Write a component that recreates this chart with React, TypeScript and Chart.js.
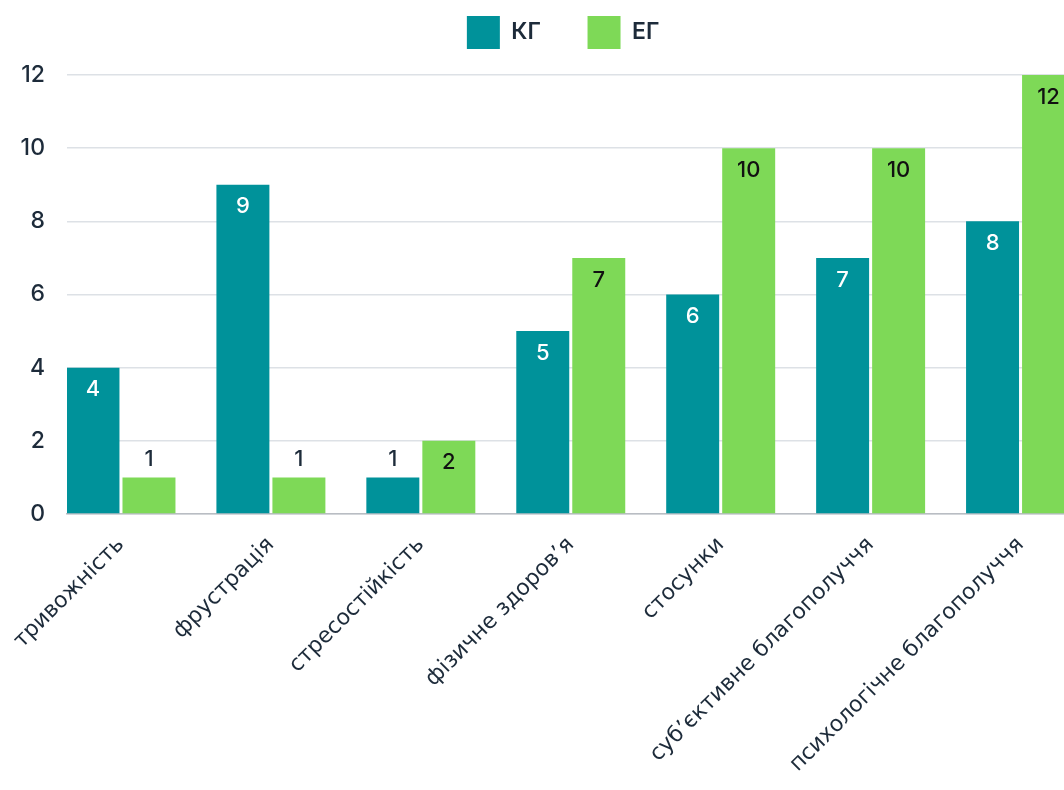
import React, { useEffect, useRef } from 'react';
import { Chart, registerables } from 'chart.js';

Chart.register(...registerables);

const categories = [
  'тривожність',
  'фрустрація',
  'стресостійкість',
  'фізичне здоров’я',
  'стосунки',
  'суб’єктивне благополуччя',
  'психологічне благополуччя',
];
const seriesNames = ['КГ', 'ЕГ'];
const seriesKG = [4, 9, 1, 5, 6, 7, 8];
const seriesEG = [1, 1, 2, 7, 10, 10, 12];
const yMin = 0;
const yMax = 12;
const yStep = 2;

const colors = ['#00929A', '#7ED957'];
const textColor = '#1d2b3a';

const CW = 1130;
const CH = 790;

const legendHeight = {
  id: 'legendHeight',
  beforeInit(chart: any) {
    const lg = chart.legend;
    if (!lg) return;
    const orig = lg.fit;
    lg.fit = function () {
      orig.call(this);
      this.height = 75;
    };
  },
};

const valueLabels = {
  id: 'valueLabels',
  afterDatasetsDraw(chart: any) {
    const ctx = chart.ctx;
    ctx.save();
    ctx.font = '500 22px Inter';
    ctx.textAlign = 'center';
    ctx.textBaseline = 'middle';
    chart.data.datasets.forEach((ds: any, di: number) => {
      const meta = chart.getDatasetMeta(di);
      meta.data.forEach((bar: any, i: number) => {
        const v = ds.data[i].y;
        const inside = v > 1;
        ctx.fillStyle = inside ? (di === 0 ? '#ffffff' : '#111111') : textColor;
        ctx.fillText(String(v), bar.x, inside ? bar.y + 22 : bar.y - 18);
      });
    });
    ctx.restore();
  },
};

export default function App() {
  const ref = useRef<HTMLCanvasElement | null>(null);

  useEffect(() => {
    if (!ref.current) return;
    const baseGen = (Chart as any).defaults.plugins.legend.labels.generateLabels;
    const chart = new Chart(ref.current, {
      type: 'bar',
      data: {
        datasets: [
          {
            label: seriesNames[0],
            data: seriesKG.map((v, i) => ({ x: i, y: v })),
            backgroundColor: colors[0],
            borderWidth: 0,
          },
          {
            label: seriesNames[1],
            data: seriesEG.map((v, i) => ({ x: i, y: v })),
            backgroundColor: colors[1],
            borderWidth: 0,
          },
        ],
      } as any,
      options: {
        responsive: false,
        animation: false,
        layout: { padding: 0, autoPadding: false },
        datasets: { bar: { categoryPercentage: 0.747, barPercentage: 0.946 } },
        plugins: {
          legend: {
            position: 'top',
            labels: {
              boxWidth: 33,
              boxHeight: 33,
              padding: 16,
              color: textColor,
              font: { family: 'Inter', size: 23, weight: '600' },
              generateLabels: (chart: any) => {
                const items = baseGen(chart);
                return items.map((it: any, i: number) => ({
                  ...it,
                  text: i === 0 ? it.text + '\u2003\u2009\u2006' : it.text + '\u2009',
                }));
              },
            },
          },
          tooltip: { enabled: false },
        },
        scales: {
          x: {
            type: 'linear',
            offset: false,
            min: -0.36,
            max: 6.73,
            grid: { display: false, offset: false },
            border: { display: true, color: '#b9bdc3', width: 1.5 },
            ticks: {
              stepSize: 1,
              includeBounds: false,
              autoSkip: false,
              maxRotation: 45,
              minRotation: 45,
              padding: 10,
              color: textColor,
              font: { family: 'DejaVu Sans', size: 22 },
              callback: (v: any) => categories[v] ?? '',
            },
            afterFit: (s: any) => {
              s.height = CH - 514;
            },
          },
          y: {
            min: yMin,
            max: yMax,
            border: { display: false },
            grid: { color: '#dde1e6', lineWidth: 1.5, drawTicks: false },
            ticks: {
              stepSize: yStep,
              padding: 22,
              color: textColor,
              font: { family: 'Inter', size: 23, weight: '500' },
            },
            afterFit: (s: any) => {
              s.width = 67;
            },
          },
        },
      } as any,
      plugins: [legendHeight, valueLabels],
    });
    return () => chart.destroy();
  }, []);

  return (
    <div
      style={{
        position: 'fixed',
        left: 0,
        top: 0,
        width: 1064,
        height: 790,
        overflow: 'hidden',
        background: '#ffffff',
      }}
    >
      <canvas ref={ref} width={CW} height={CH} style={{ display: 'block', width: CW, height: CH }} />
    </div>
  );
}
